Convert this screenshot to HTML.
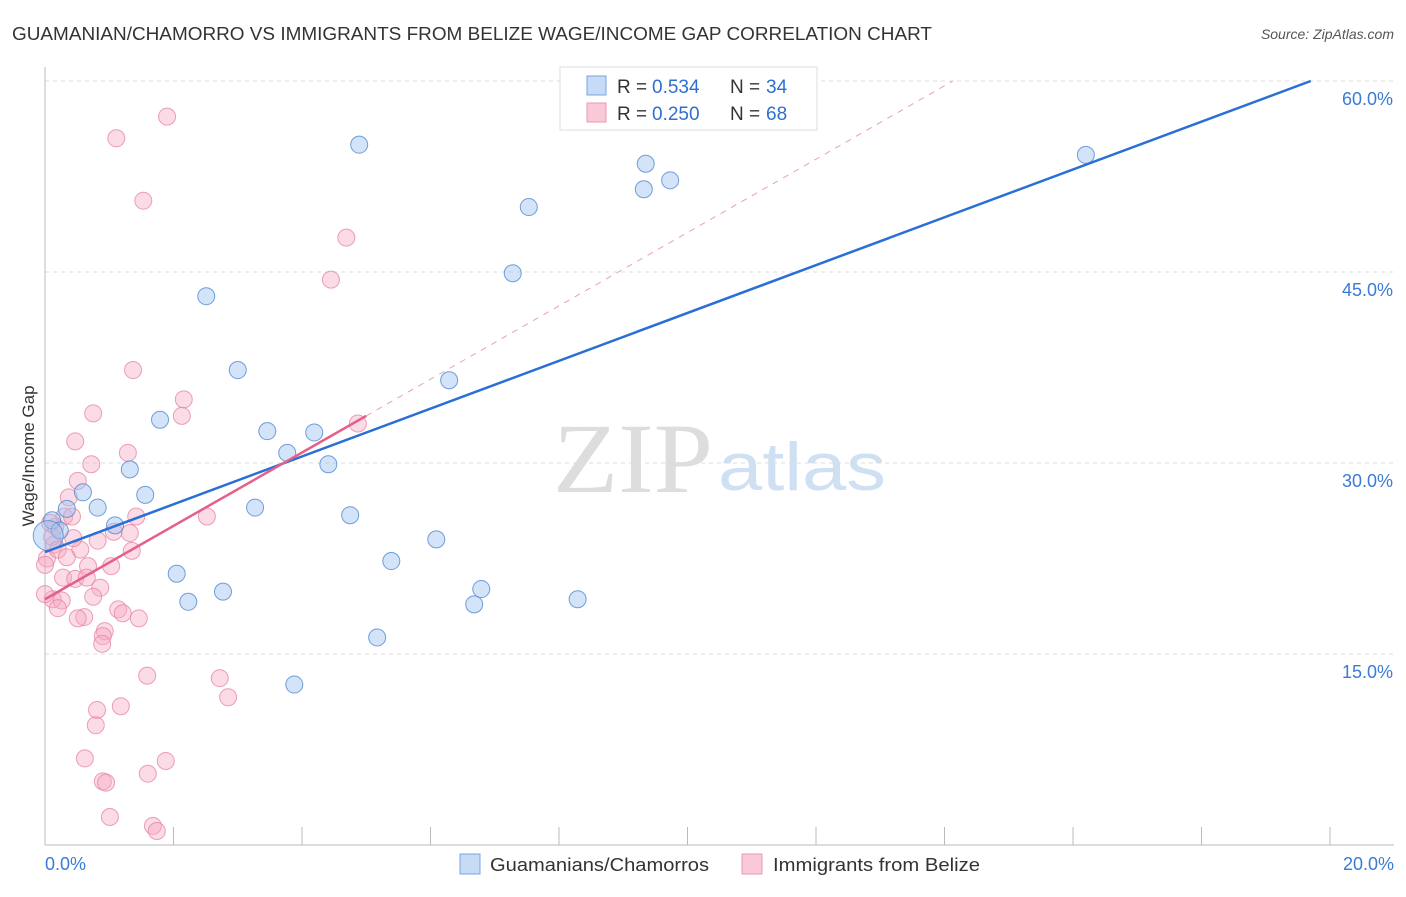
<!DOCTYPE html>
<html><head><meta charset="utf-8">
<style>
body{margin:0;background:#fff;font-family:"Liberation Sans",sans-serif;}
svg text{font-family:"Liberation Sans",sans-serif;}
</style></head>
<body>
<svg id="chart" width="1406" height="892">
<text x="12" y="40" font-size="18" fill="#333" textLength="920" lengthAdjust="spacingAndGlyphs">GUAMANIAN/CHAMORRO VS IMMIGRANTS FROM BELIZE WAGE/INCOME GAP CORRELATION CHART</text>
<text x="1394" y="39" font-size="14" fill="#555" font-style="italic" text-anchor="end">Source: ZipAtlas.com</text>
<text x="553" y="492" font-size="100" fill="#ddd" style="font-family:'Liberation Serif',serif" textLength="160" lengthAdjust="spacingAndGlyphs">ZIP</text>
<text x="718" y="490" font-size="68" fill="#cfe0f3" textLength="168" lengthAdjust="spacingAndGlyphs">atlas</text>
<g id="grid"></g>
<g id="axes"></g>
<g id="pts"></g>
<g id="lines"></g>
<text x="34" y="456" font-size="17" fill="#333" text-anchor="middle" transform="rotate(-90 34 456)">Wage/Income Gap</text>
<g>
<rect x="560" y="67" width="257" height="63" fill="#fff" stroke="#ddd"/>
<rect x="587" y="76" width="19" height="19" fill="#c6dbf5" stroke="#7aa6e0"/>
<text x="617" y="93" font-size="19" fill="#333">R = </text><text x="652" y="93" font-size="19" fill="#2f6fd0">0.534</text>
<text x="730" y="93" font-size="19" fill="#333">N = </text><text x="766" y="93" font-size="19" fill="#2f6fd0">34</text>
<rect x="587" y="103" width="19" height="19" fill="#f9c9d7" stroke="#e99ab2"/>
<text x="617" y="120" font-size="19" fill="#333">R = </text><text x="652" y="120" font-size="19" fill="#2f6fd0">0.250</text>
<text x="730" y="120" font-size="19" fill="#333">N = </text><text x="766" y="120" font-size="19" fill="#2f6fd0">68</text>
</g>
<g>
<rect x="460" y="854" width="20" height="20" fill="#c6dbf5" stroke="#7aa6e0"/>
<text x="490" y="871" font-size="18" fill="#333" textLength="219" lengthAdjust="spacingAndGlyphs">Guamanians/Chamorros</text>
<rect x="742" y="854" width="20" height="20" fill="#f9c9d7" stroke="#e99ab2"/>
<text x="773" y="871" font-size="18" fill="#333" textLength="207" lengthAdjust="spacingAndGlyphs">Immigrants from Belize</text>
</g>
</svg>
<script>
const blueX=[0.11,0.23,0.34,0.59,0.82,1.09,1.32,1.56,1.79,2.05,2.23,2.51,2.77,3.0,3.27,3.46,3.77,3.88,4.19,4.41,4.75,4.89,5.17,5.39,6.09,6.29,6.68,6.79,7.28,7.53,8.29,9.32,9.35,9.73,16.2,0.05];
const blueY=[25.5,24.7,26.4,27.7,26.5,25.1,29.5,27.5,33.4,21.3,19.1,43.1,19.9,37.3,26.5,32.5,30.8,12.6,32.4,29.9,25.9,55.0,16.3,22.3,24.0,36.5,18.9,20.1,44.9,50.1,19.3,51.5,53.5,52.2,54.2,24.3];
const blueR=[8.5,8.5,8.5,8.5,8.5,8.5,8.5,8.5,8.5,8.5,8.5,8.5,8.5,8.5,8.5,8.5,8.5,8.5,8.5,8.5,8.5,8.5,8.5,8.5,8.5,8.5,8.5,8.5,8.5,8.5,8.5,8.5,8.5,8.5,8.5,15];
const pinkX=[1.11,1.90,1.53,4.69,4.45,1.37,2.16,2.13,0.75,4.87,0.47,1.29,0.72,0.51,0.37,0.30,0.42,0.16,0.08,0.14,0.11,0.03,0.20,0.55,0.44,0.82,1.07,1.32,1.42,1.35,2.52,0.34,0.67,1.03,0.28,0.47,0.65,0.86,0.75,0.12,0.26,0.20,0.61,0.51,1.14,1.21,1.46,0.93,0.90,0.89,1.59,2.72,2.85,1.18,0.81,0.79,0.62,1.88,1.60,0.90,0.95,1.01,1.68,1.74,0.0,0.0];
const pinkY=[55.5,57.2,50.6,47.7,44.4,37.3,35.0,33.7,33.9,33.1,31.7,30.8,29.9,28.6,27.3,25.8,25.8,25.0,25.3,23.6,24.2,22.5,23.2,23.2,24.1,23.9,24.6,24.5,25.8,23.1,25.8,22.6,21.9,21.9,21.0,20.9,21.0,20.2,19.5,19.3,19.2,18.6,17.9,17.8,18.5,18.2,17.8,16.8,16.4,15.8,13.3,13.1,11.6,10.9,10.6,9.4,6.8,6.6,5.6,5.0,4.9,2.2,1.5,1.1,22.0,19.7];
const yTicks=[15,30,45,60];
const yTickLabels=["15.0%","30.0%","45.0%","60.0%"];
const xEndLabels=["0.0%","20.0%"];
const blueFit=[0,23.0,19.7,60.0];
const pinkFit=[0,19.3,5.0,33.7];
const X0=45,X1=1330,Y0=845;
const sx=v=>X0+v/20*(X1-X0);
const sy=v=>Y0-v/60*(Y0-81);
const NS="http://www.w3.org/2000/svg";
function mk(t,a,p){const e=document.createElementNS(NS,t);for(const k in a)e.setAttribute(k,a[k]);p.appendChild(e);return e;}
const grid=document.getElementById('grid'),axes=document.getElementById('axes'),pts=document.getElementById('pts'),lines=document.getElementById('lines');
yTicks.forEach((v,i)=>{
  const l=mk('line',{x1:X0,x2:1394,y1:sy(v),y2:sy(v),stroke:'#ddd','stroke-dasharray':'4,4'},grid);
  
  
  const t=mk('text',{x:1393,y:sy(v)+24,'font-size':18,fill:'#3a7bd5','text-anchor':'end'},axes);
  t.textContent=yTickLabels[i];
  
  
});
const ya=mk('line',{x1:X0,x2:X0,y1:67,y2:Y0,stroke:'#bbb'},axes);


const xa=mk('line',{x1:X0,x2:1394,y1:Y0,y2:Y0,stroke:'#bbb'},axes);


for(let i=0;i<=10;i++){
  const tk=mk('line',{x1:sx(i*2),x2:sx(i*2),y1:Y0,y2:Y0-18,stroke:'#bbb'},axes);
  
  
}
[[0,'start',45],[20,'end',1394]].forEach((d,i)=>{
  const t=mk('text',{x:d[2],y:870,'font-size':18,fill:'#3a7bd5','text-anchor':d[1]},axes);
  t.textContent=xEndLabels[i];
  
  
});
pinkX.forEach((x,i)=>{
  const c=mk('circle',{cx:sx(x),cy:sy(pinkY[i]),r:8.5,fill:'rgba(246,170,195,0.42)',stroke:'rgba(230,130,160,0.75)'},pts);
  
  
});
blueX.forEach((x,i)=>{
  const c=mk('circle',{cx:sx(x),cy:sy(blueY[i]),r:blueR[i],fill:'rgba(160,195,240,0.45)',stroke:'rgba(80,135,210,0.8)'},pts);
  
  
});
const slopeP=(pinkFit[3]-pinkFit[1])/(pinkFit[2]-pinkFit[0]);
const dx=pinkFit[0]+(60-pinkFit[1])/slopeP;
const pd=mk('line',{x1:sx(pinkFit[2]),y1:sy(pinkFit[3]),x2:sx(dx),y2:sy(60),stroke:'#e8a0b6','stroke-dasharray':'6,6','stroke-width':1},lines);


const bl=mk('line',{x1:sx(blueFit[0]),y1:sy(blueFit[1]),x2:sx(blueFit[2]),y2:sy(blueFit[3]),stroke:'#2a6fd6','stroke-width':2.5},lines);


const pl=mk('line',{x1:sx(pinkFit[0]),y1:sy(pinkFit[1]),x2:sx(pinkFit[2]),y2:sy(pinkFit[3]),stroke:'#e4608a','stroke-width':2.5},lines);


</script>
</body></html>
